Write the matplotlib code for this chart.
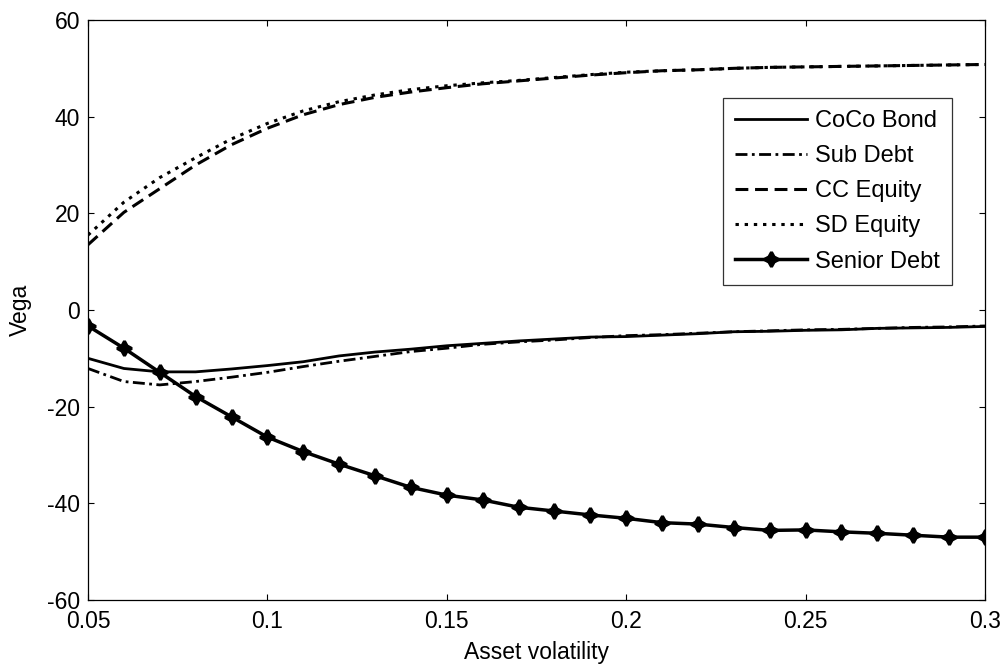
import numpy as np
import matplotlib
matplotlib.use("Agg")
import matplotlib.pyplot as plt

plt.rcParams['font.family'] = ['Liberation Sans', 'DejaVu Sans']
plt.rcParams['axes.unicode_minus'] = False

# Asset volatility grid
sigma = [0.05, 0.06, 0.07, 0.08, 0.09, 0.10, 0.11, 0.12, 0.13, 0.14, 0.15, 0.16, 0.17,
         0.18, 0.19, 0.20, 0.21, 0.22, 0.23, 0.24, 0.25, 0.26, 0.27, 0.28, 0.29, 0.30]

# Vega of each claim
coco_bond = [-10.0, -12.1, -12.8, -12.8, -12.2, -11.5, -10.7, -9.5, -8.7, -8.1, -7.4, -6.9, -6.4,
             -6.0, -5.6, -5.5, -5.2, -4.9, -4.5, -4.4, -4.2, -4.1, -3.8, -3.7, -3.6, -3.4]
sub_debt = [-12.1, -14.8, -15.5, -14.8, -13.9, -12.9, -11.7, -10.6, -9.6, -8.6, -7.9, -7.1, -6.6,
            -6.2, -5.7, -5.3, -5.1, -4.8, -4.5, -4.3, -4.1, -4.0, -3.8, -3.6, -3.5, -3.3]
cc_equity = [13.5, 20.2, 25.1, 30.0, 34.2, 37.6, 40.4, 42.5, 44.0, 45.1, 46.0, 46.8, 47.4,
             48.0, 48.6, 49.1, 49.5, 49.7, 50.0, 50.2, 50.3, 50.4, 50.5, 50.6, 50.7, 50.8]
sd_equity = [15.5, 22.3, 27.4, 31.5, 35.4, 38.6, 41.2, 43.1, 44.5, 45.6, 46.4, 47.0, 47.5,
             48.1, 48.7, 49.2, 49.5, 49.7, 50.0, 50.2, 50.3, 50.4, 50.5, 50.6, 50.7, 50.8]
senior_debt = [-3.3, -7.9, -12.9, -17.9, -22.1, -26.3, -29.3, -31.9, -34.3, -36.7, -38.3, -39.3, -40.8,
               -41.6, -42.4, -43.1, -44.0, -44.3, -45.0, -45.6, -45.5, -45.9, -46.2, -46.6, -47.0, -47.0]

x_ticks = [0.05, 0.1, 0.15, 0.2, 0.25, 0.3]
x_ticklabels = ['0.05', '0.1', '0.15', '0.2', '0.25', '0.3']
y_ticks = [-60, -40, -20, 0, 20, 40, 60]

FS = 16.5

fig = plt.figure(figsize=(10.06, 6.68), dpi=100)
ax = fig.add_axes([88 / 1006, 68 / 668, 897 / 1006, 580 / 668])

ax.plot(sigma, coco_bond, color='black', lw=2.0, ls='-', label='CoCo Bond')
ax.plot(sigma, sub_debt, color='black', lw=2.0, ls=(0, (4.3, 1.6, 1.0, 1.6)), label='Sub Debt')
ax.plot(sigma, cc_equity, color='black', lw=2.2, ls=(0, (4.2, 2.2)), label='CC Equity')
ax.plot(sigma, sd_equity, color='black', lw=2.2, ls=(0, (1.1, 1.9)), label='SD Equity')
ax.plot(sigma, senior_debt, color='black', lw=2.5, ls='-', marker=(4, 1, 0),
        markersize=10.5, markerfacecolor='black', markeredgecolor='black', markeredgewidth=2.2,
        label='Senior Debt')

ax.set_xlim(0.05, 0.3)
ax.set_ylim(-60, 60)
ax.set_xticks(x_ticks)
ax.set_xticklabels(x_ticklabels)
ax.set_yticks(y_ticks)
ax.tick_params(direction='in', length=4, width=0.8, top=True, right=True, labelsize=FS)
ax.tick_params(axis='x', pad=7)
ax.tick_params(axis='y', pad=5.5)
for s in ax.spines.values():
    s.set_linewidth(0.9)

ax.set_xlabel('Asset volatility', fontsize=FS)
ax.set_ylabel('Vega', fontsize=FS)
ax.xaxis.set_label_coords(0.5, -0.071)
ax.yaxis.set_label_coords(-0.0625, 0.5)

leg = ax.legend(loc='upper right', bbox_to_anchor=(0.963, 0.8655), fontsize=17,
                handlelength=3.05, labelspacing=0.56, borderpad=0.5, handletextpad=0.35,
                fancybox=False, frameon=True, borderaxespad=0)
leg.get_frame().set_edgecolor('black')
leg.get_frame().set_linewidth(0.9)

fig.savefig('out.png', dpi=100)
